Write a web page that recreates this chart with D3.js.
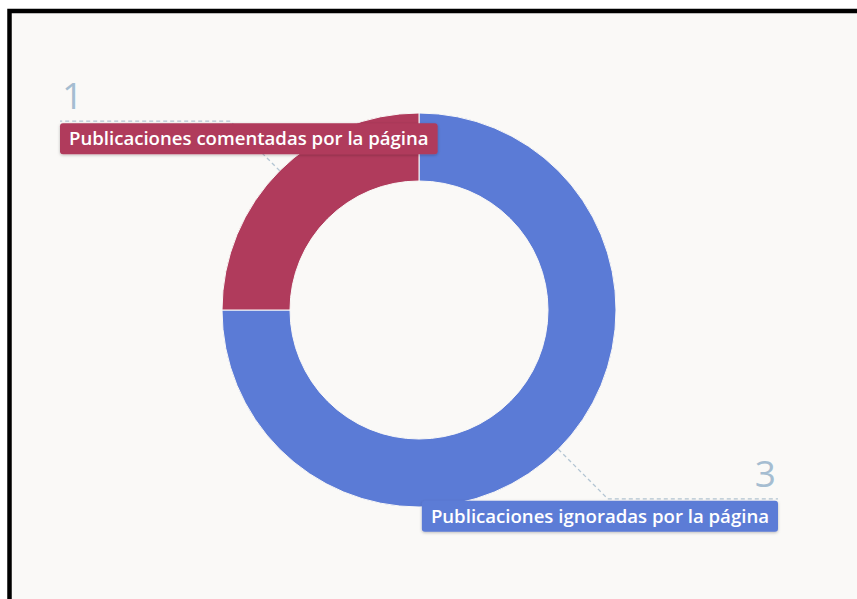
<!DOCTYPE html>
<html>
<head>
<meta charset="utf-8">
<script src="https://cdn.jsdelivr.net/npm/d3@7"></script>
<style>
  body { margin: 0; background: #ffffff; }
  svg { display: block; }
</style>
</head>
<body>
<script>
// Chart data
let categories = ["Publicaciones ignoradas por la página", "Publicaciones comentadas por la página"];
let values = [3, 1];
let colors = ["#5b7bd6", "#b03b5c"];

let width = 857;
let height = 599;
let cx = 419, cy = 310;
let outerR = 197, innerR = 129, elbowR = 267, lineReach = 359;

let svg = d3.select("body")
  .append("svg")
    .attr("width", width)
    .attr("height", height);

let defs = svg.append("defs");
let shadow = defs.append("filter").attr("id", "shadow")
  .attr("x", "-5%").attr("y", "-30%").attr("width", "110%").attr("height", "160%");
shadow.append("feDropShadow")
  .attr("dx", 0).attr("dy", 1).attr("stdDeviation", 1.5)
  .attr("flood-color", "#000").attr("flood-opacity", 0.25);

// Frame and background
svg.append("rect")
  .attr("x", 9.5).attr("y", 11)
  .attr("width", 900).attr("height", 700)
  .attr("fill", "#faf9f7")
  .attr("stroke", "#000")
  .attr("stroke-width", 4.5);

let g = svg.append("g")
  .attr("transform", "translate(" + cx + ", " + cy + ")");

let pie = d3.pie().sort(null).value((d) => { return d; });
let arcs = pie(values);

let arc = d3.arc().innerRadius(innerR).outerRadius(outerR);
let outerArc = d3.arc().innerRadius(outerR).outerRadius(outerR);
let elbowArc = d3.arc().innerRadius(elbowR).outerRadius(elbowR);

// Slices
g.selectAll("path.slice")
  .data(arcs).enter()
  .append("path")
    .attr("class", "slice")
    .attr("d", arc)
    .attr("fill", (d, i) => { return colors[i]; })
    .attr("stroke", "#faf9f7")
    .attr("stroke-width", 1);

// Leader lines
arcs.forEach((d, i) => {
  let mid = (d.startAngle + d.endAngle) / 2;
  let side = Math.sin(mid) >= 0 ? 1 : -1;
  let p0 = outerArc.centroid(d);
  let p1 = elbowArc.centroid(d);
  let p2 = [side * lineReach, p1[1]];

  g.append("polyline")
    .attr("points", [p0, p1, p2].map((p) => p.join(",")).join(" "))
    .attr("fill", "none")
    .attr("stroke", "#b3c5d3")
    .attr("stroke-width", 1.3)
    .attr("stroke-dasharray", "4,3");

  // value number above the line
  g.append("text")
    .attr("x", p2[0] + side * -2)
    .attr("y", p2[1] - 12)
    .attr("text-anchor", side > 0 ? "end" : "start")
    .style("font-family", "'Open Sans', Lato, sans-serif")
    .style("font-weight", 400)
    .style("font-size", "37px")
    .style("fill", "#a5bdd1")
    .text(values[i]);

  // category label box below the line
  let lbl = g.append("g");
  let txt = lbl.append("text")
    .attr("y", p2[1] + 24)
    .style("font-family", "'Open Sans', Lato, sans-serif")
    .style("font-weight", 600)
    .style("font-size", "18.6px")
    .style("fill", "#ffffff")
    .text(categories[i]);
  let tw = txt.node().getComputedTextLength();
  let boxW = tw + 18;
  let boxX = side > 0 ? p2[0] - boxW : p2[0];
  txt.attr("x", boxX + 9);
  lbl.insert("rect", "text")
    .attr("x", boxX)
    .attr("y", p2[1] + 2)
    .attr("width", boxW)
    .attr("height", 31)
    .attr("rx", 3)
    .attr("fill", colors[i])
    .attr("filter", "url(#shadow)");
});
</script>
</body>
</html>
